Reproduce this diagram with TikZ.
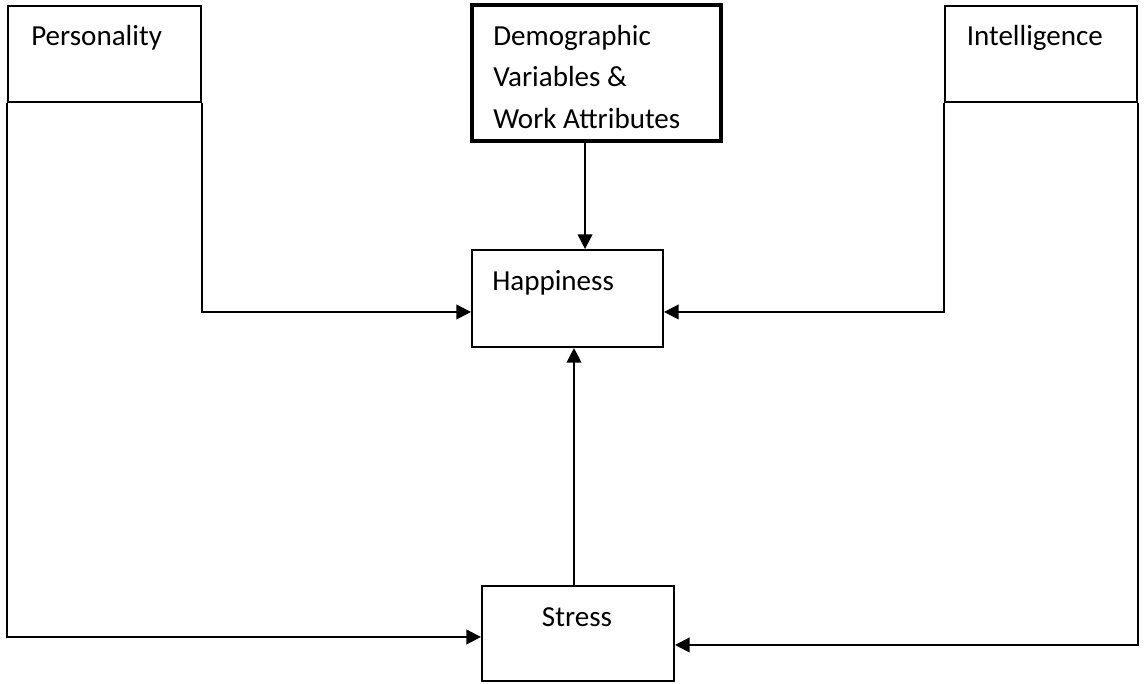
\documentclass[tikz,border=0pt]{standalone}
\usepackage{fontspec}
\setmainfont{Carlito}
\usetikzlibrary{arrows.meta}
\begin{document}
\begin{tikzpicture}[x=0.75pt,y=-0.75pt,
  box/.style={draw, line width=1.5pt, rectangle, inner sep=0pt},
  thickbox/.style={draw, line width=2.8pt, rectangle, inner sep=0pt},
  lbl/.style={inner sep=0pt, font=\fontsize{21.8pt}{31pt}\selectfont},
  arr/.style={line width=1.5pt, -{Triangle[length=11pt,width=11pt]}}]
\useasboundingbox (0,0) rectangle (1146,683);
% boxes
\node[box, minimum width=144.75pt, minimum height=72pt] (pers) at (104.5,54) {};
\node[box, minimum width=144pt, minimum height=72pt] (intel) at (1041,54) {};
\node[thickbox, minimum width=186.75pt, minimum height=102pt] (demo) at (596.5,73) {};
\node[box, minimum width=143.25pt, minimum height=72.75pt] (hap) at (567.5,298.5) {};
\node[box, minimum width=144pt, minimum height=71.25pt] (stress) at (578,633.5) {};
% texts
\node[lbl, anchor=base west] (perst) at (31,45.7) {Personality};
\node[lbl, anchor=base west] (intelt) at (966.5,45.7) {Intelligence};
\node[lbl, anchor=base west] (demot) at (493,45.5) {\begin{tabular}[t]{@{}l@{}}Demographic\\Variables \&\\Work Attributes\end{tabular}};
\node[lbl, anchor=base west] (hapt) at (492,290) {Happiness};
\node[lbl, anchor=base] (stresst) at (577,626.7) {Stress};
% connectors
\draw[arr] (pers.south east) |- ([yshift=-10.1pt]hap.west);
\draw[arr] (intel.south west) |- ([yshift=-10.1pt]hap.east);
\draw[arr] (pers.south west) |- ([yshift=-2.6pt]stress.west);
\draw[arr] (intel.south east) |- ([yshift=-8.6pt]stress.east);
\draw[arr] ([xshift=-8.6pt]demo.south) -- ([xshift=-8.6pt]demo.south |- hap.north);
\draw[arr] ([xshift=-3pt]stress.north) -- ([xshift=-3pt]stress.north |- hap.south);
\end{tikzpicture}
\end{document}
